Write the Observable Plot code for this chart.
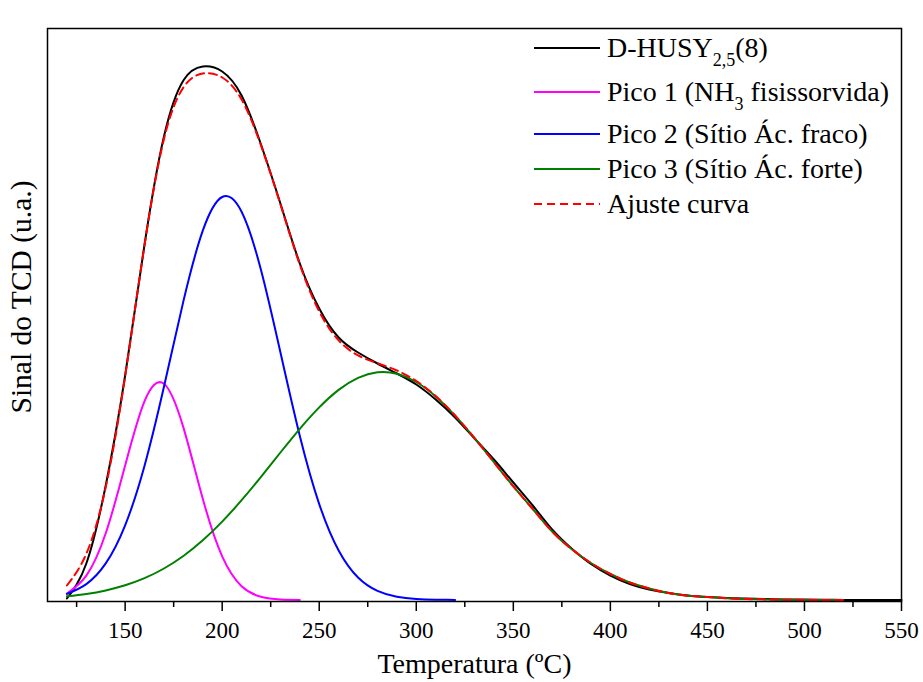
<!DOCTYPE html>
<html><head><meta charset="utf-8">
<script src="https://cdn.jsdelivr.net/npm/d3@7"></script>
<script src="https://cdn.jsdelivr.net/npm/@observablehq/plot@0.6"></script>
<style>
body{margin:0;background:#fff}
#chart{position:relative;width:923px;height:682px}
</style>
</head><body><div id="chart"></div>
<script>
// Temperature grid (ºC)
const temps = [120,130,140,150,160,170,180,190,200,210,220,230,240,250,260,270,280,290,300,310,320,330,340,350,360,370,380,390,400,410,420,430,440,450,460,470,480,490,500,510,520,530,540,550];
// Measured TCD signal D-HUSY2,5(8)
const measured = [3,38,116,226,357,465,521,535,530,506,457,398,338,293,264,249,238,228,217,202,184,163,142,119,96,72,53,37.5,26,17.5,12,8.5,6,4.5,3.5,3,2.5,2,2,1.8,1.5,1.5,1.5,1.5];
// Peak 1 (120–240)
const pico1 = [8,25.8,68.2,135.9,200.4,217.7,174.1,102.7,45.1,15.3,4.7,2.0,1.6];
// Peak 2 (120–320)
const pico2 = [7.6,17.4,38.1,76.2,135.8,214.7,300.1,370.8,404.5,389.7,331.5,249.2,165.5,97.4,51.0,24.0,10.6,4.7,2.5,1.8,1.6];
// Peak 3 (120–520)
const pico3 = [5.2,7.6,11.1,16.2,23.3,33.0,45.5,61.2,79.9,101.3,124.7,149.0,172.7,194.1,211.6,223.6,229.2,227.8,219.5,205.1,185.9,163.4,139.3,115.2,92.5,70,52.5,38.5,27.5,19,13,8.5,5.8,4.5,3.3,2.5,2.1,1.8,1.6,1.5,1.5];
// Curve fit (120–520)
const ajuste = [16,47.8,114.4,225.3,356.5,462.4,514,528,524,502,456,397.2,336.8,290.0,261.1,246.1,238.3,231.0,220.5,205.4,186.0,163.4,139.3,115.2,92.5,70,52.5,38.5,27.5,19,13,8.5,5.8,4.5,3.3,2.5,2.1,1.8,1.6,1.5,1.5];

const majorTicks = [150,200,250,300,350,400,450,500,550];
const minorTicks = [125,175,225,275,325,375,425,475,525];

const seriesNames = ["D-HUSY2,5(8)","Pico 1 (NH3 fisissorvida)","Pico 2 (Sítio Ác. fraco)","Pico 3 (Sítio Ác. forte)","Ajuste curva"];
const seriesColors = ["#000000","#ff00ff","#0000ff","#008000","#ff0000"];

const rows = vals => vals.map((v,i)=>({t: temps[i], v}));

const serif = "'Liberation Serif','Times New Roman',Times,serif";

const plot = Plot.plot({
  width: 923, height: 682,
  marginLeft: 47, marginRight: 22, marginTop: 28, marginBottom: 81,
  style: {fontFamily: serif, fontSize: "23px", background: "#fff", color: "#000"},
  x: {domain: [110, 550]},
  y: {domain: [0, 573], axis: null},
  marks: [
    Plot.axisX({ticks: majorTicks, tickSize: 10, tickPadding: 10, label: null, strokeWidth: 1.5, tickFormat: d => String(d)}),
    Plot.axisX({ticks: minorTicks, tickSize: 6, text: null, label: null, strokeWidth: 1.5}),
    Plot.line(rows(measured), {x: "t", y: "v", stroke: seriesColors[0], strokeWidth: 2, curve: "natural"}),
    Plot.line(rows(pico1), {x: "t", y: "v", stroke: seriesColors[1], strokeWidth: 2, curve: "natural"}),
    Plot.line(rows(pico2), {x: "t", y: "v", stroke: seriesColors[2], strokeWidth: 2, curve: "natural"}),
    Plot.line(rows(pico3), {x: "t", y: "v", stroke: seriesColors[3], strokeWidth: 2, curve: "natural"}),
    Plot.line(rows(ajuste), {x: "t", y: "v", stroke: seriesColors[4], strokeWidth: 2, strokeDasharray: "8,5", curve: "natural"}),
    Plot.frame({stroke: "#000", strokeWidth: 1.5}),
    Plot.text(["Temperatura (ºC)"], {frameAnchor: "bottom", dy: 71, fontSize: 28, fill: "#000"}),
    Plot.text(["Sinal do TCD (u.a.)"], {frameAnchor: "left", textAnchor: "middle", dx: -26, dy: -18, rotate: -90, fontSize: 29.5, fill: "#000"})
  ]
});

// Legend inside the frame, top right
const svg = d3.select(plot);
const leg = svg.append("g").attr("font-family", serif).attr("font-size", 28).attr("fill", "#000").attr("text-anchor", "start");
const rowY = [48, 92, 134, 169, 204];
const parts = [
  [["D-HUSY",false],["2,5",true],["(8)",false]],
  [["Pico 1 (NH",false],["3",true],[" fisissorvida)",false]],
  [["Pico 2 (Sítio Ác. fraco)",false]],
  [["Pico 3 (Sítio Ác. forte)",false]],
  [["Ajuste curva",false]]
];
seriesNames.forEach((name, i) => {
  const y = rowY[i];
  leg.append("line").attr("x1", 534).attr("x2", 600).attr("y1", y).attr("y2", y)
    .attr("stroke", seriesColors[i]).attr("stroke-width", 2)
    .attr("stroke-dasharray", i === 4 ? "8,5" : null);
  const txt = leg.append("text").attr("x", 607).attr("y", y + 9);
  parts[i].forEach(([s, sub]) => {
    if (sub) txt.append("tspan").attr("font-size", 18).attr("dy", 9).text(s);
    else {
      const ts = txt.append("tspan").text(s);
      if (txt.selectAll("tspan").size() > 1) ts.attr("dy", -9);
    }
  });
});

document.getElementById("chart").appendChild(plot);
</script>
</body></html>
